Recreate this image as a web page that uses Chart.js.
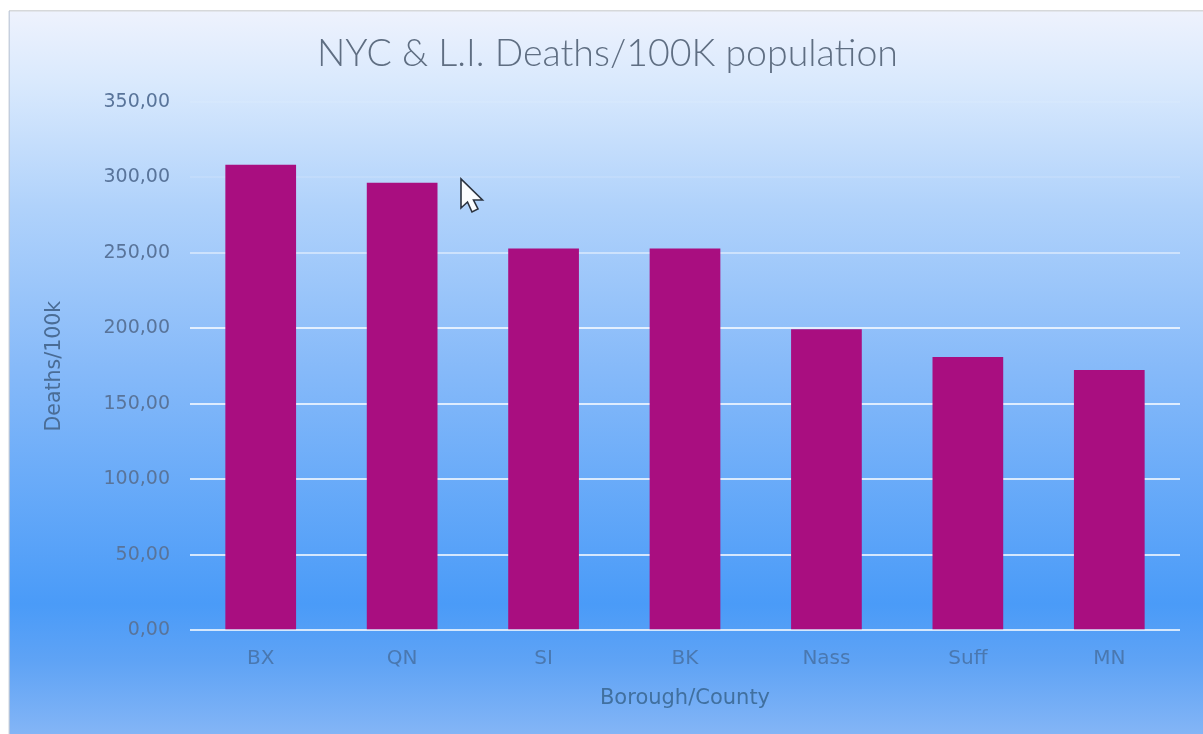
<!DOCTYPE html>
<html>
<head>
<meta charset="utf-8">
<style>
html,body{margin:0;padding:0;background:#fff;}
#wrap{width:1203px;height:734px;}
canvas{display:block;}
</style>
<script src="https://cdn.jsdelivr.net/npm/chart.js@4/dist/chart.umd.min.js"></script>
</head>
<body>
<div id="wrap"><canvas id="c" width="1203" height="734"></canvas></div>
<script>
const categories = ['BX','QN','SI','BK','Nass','Suff','MN'];
const deathsPer100k = [308.5,296.5,253,253,199.5,181,172.5];
const yTicks = [0,50,100,150,200,250,300,350];
const titleText = 'NYC & L.I. Deaths/100K population';
const xTitle = 'Borough/County';
const yTitle = 'Deaths/100k';

const titleFamily = 'Lato, "Open Sans", sans-serif';
const axisFamily = '"DejaVu Sans", sans-serif';

// Panel backdrop with a vertical blue gradient and a thin top/left edge
const panel = {
  id: 'panel',
  beforeDraw(chart) {
    const {ctx, width, height} = chart;
    ctx.save();
    ctx.fillStyle = '#ffffff';
    ctx.fillRect(0, 0, width, height);
    const g = ctx.createLinearGradient(0, 11, 0, height);
    g.addColorStop(0, '#eef2fd');
    g.addColorStop(0.1, '#d9e9fd');
    g.addColorStop(0.27, '#b0d2fb');
    g.addColorStop(0.5, '#85b9f9');
    g.addColorStop(0.82, '#4a9bf8');
    g.addColorStop(0.9, '#5fa3f5');
    g.addColorStop(1, '#83b5f6');
    ctx.fillStyle = g;
    ctx.fillRect(9, 11, width - 9, height - 11);
    ctx.fillStyle = '#d6d8da';
    ctx.fillRect(9, 10, width - 9, 1.5);
    ctx.fillStyle = 'rgba(190,200,215,0.8)';
    ctx.fillRect(8.5, 11, 1.5, height - 11);
    ctx.restore();
  }
};

// Mouse pointer overlay
const pointerGlyph = {
  id: 'pointerGlyph',
  afterDraw(chart) {
    const {ctx} = chart;
    ctx.save();
    ctx.translate(461, 179);
    ctx.beginPath();
    ctx.moveTo(0, 0);
    ctx.lineTo(0, 29);
    ctx.lineTo(6.5, 23);
    ctx.lineTo(11, 33);
    ctx.lineTo(17, 30);
    ctx.lineTo(12.5, 21);
    ctx.lineTo(21.5, 21);
    ctx.closePath();
    ctx.fillStyle = '#fbfdff';
    ctx.fill();
    ctx.lineWidth = 1.6;
    ctx.strokeStyle = '#2c3440';
    ctx.stroke();
    ctx.restore();
  }
};

new Chart(document.getElementById('c'), {
  type: 'bar',
  data: {
    labels: categories,
    datasets: [{
      data: deathsPer100k,
      backgroundColor: '#a90e80',
      borderWidth: 0,
      barPercentage: 0.5,
      categoryPercentage: 1
    }]
  },
  plugins: [panel, pointerGlyph],
  options: {
    responsive: false,
    animation: false,
    devicePixelRatio: 1,
    layout: {padding: {left: 35, right: 23, top: 31, bottom: 22.5}},
    plugins: {
      legend: {display: false},
      tooltip: {enabled: false},
      title: {
        display: true,
        text: titleText,
        color: '#5f6e82',
        font: {family: titleFamily, size: 37.5, weight: '300'},
        padding: {top: 0, bottom: 26}
      }
    },
    scales: {
      x: {
        grid: {display: false, drawTicks: false},
        border: {display: false},
        ticks: {color: '#4a78b0', font: {family: axisFamily, size: 20}, padding: 16},
        title: {display: true, text: xTitle, color: '#41709f',
                font: {family: axisFamily, size: 21}, padding: {top: 0, bottom: 0}}
      },
      y: {
        min: 0,
        max: 350,
        afterBuildTicks(scale) { scale.ticks = yTicks.map(v => ({value: v})); },
        afterFit(scale) { scale.width = 155; },
        grid: {
          drawTicks: false,
          lineWidth: 2,
          color: c => c.tick.value >= 350 ? 'rgba(255,255,255,0.08)'
                    : c.tick.value >= 300 ? 'rgba(255,255,255,0.12)'
                    : c.tick.value >= 250 ? 'rgba(255,255,255,0.45)'
                    : 'rgba(255,255,255,0.75)'
        },
        border: {display: false},
        ticks: {
          color: '#59749a',
          font: {family: axisFamily, size: 19},
          padding: 20,
          callback: v => v.toFixed(2).replace('.', ',')
        },
        title: {display: true, text: yTitle, color: '#4a6c95',
                font: {family: axisFamily, size: 20.5}, padding: {top: 7, bottom: 0}}
      }
    }
  }
});
</script>
</body>
</html>
